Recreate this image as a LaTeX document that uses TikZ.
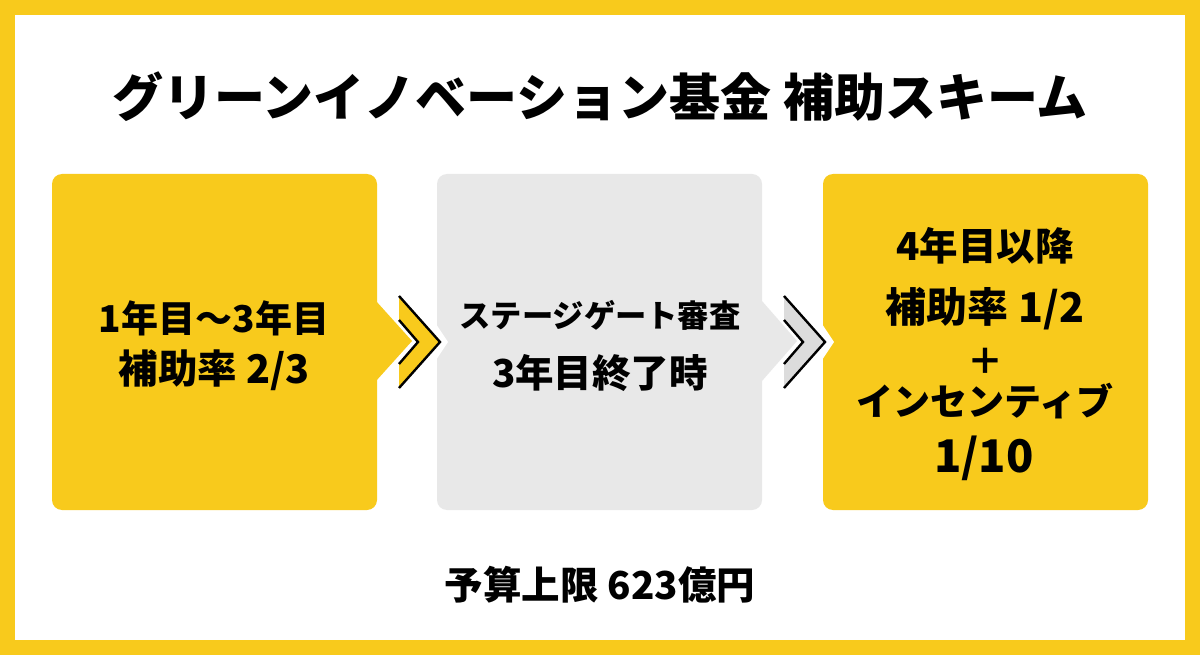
\documentclass[tikz,border=0pt]{standalone}
\usepackage{fontspec}
\setmainfont{Noto Sans CJK JP}[BoldFont={Noto Sans CJK JP Black}]
\definecolor{ylw}{RGB}{248,202,28}
\definecolor{gbox}{RGB}{232,232,232}
\definecolor{gband}{RGB}{220,220,220}
\tikzset{
  panel/.style={draw=none, rounded corners=10pt, minimum width=325pt, minimum height=336pt, inner sep=0pt},
  lbl/.style={inner sep=0pt, font=\bfseries, text=black},
  chev/.style={draw=black, line width=2.4pt, line join=miter},
}
\newcommand{\fsz}[1]{\fontsize{#1}{#1}\selectfont}
\begin{document}
\begin{tikzpicture}[x=1pt,y=-1pt]
\useasboundingbox (0,0) rectangle (1200,655);
\fill[ylw] (0,0) rectangle (1200,655);
\fill[white] (15,15) rectangle (1185,640);

% panels
\node[panel, fill=ylw] (b1) at (214.5,342) {};
\node[panel, fill=gbox] (b2) at (599.5,342) {};
\node[panel, fill=ylw] (b3) at (985.5,342) {};

% tips of boxes 1 and 2
\fill[ylw] (370,301) -- (376,301) -- (412,341) -- (376,381) -- (370,381) -- cycle;
\fill[gbox] (756,301) -- (762,301) -- (797,341) -- (762,381) -- (756,381) -- cycle;
% notches in boxes 2 and 3
\fill[white] (436,324) -- (448,342) -- (436,360) -- cycle;
\fill[white] (822,324) -- (834,342) -- (822,360) -- cycle;

% chevron band 1
\fill[ylw] (399,296) -- (440,342) -- (399,388) -- (399,364) -- (418,342) -- (399,320) -- cycle;
\draw[chev] (399,296) -- (440,342) -- (399,388);
\draw[chev] (399,320) -- (418,342) -- (399,364);
% chevron band 2
\fill[gband] (784,296) -- (825,342) -- (784,388) -- (784,364) -- (803,342) -- (784,320) -- cycle;
\draw[chev] (784,296) -- (825,342) -- (784,388);
\draw[chev] (784,320) -- (803,342) -- (784,364);

% title
\node[lbl, font=\bfseries\fsz{51}] (title) at (600,97) {グリーンイノベーション基金 補助スキーム};

% box 1
\node[lbl, font=\bfseries\fsz{37}] (t1a) at (214,318) {1年目〜3年目};
\node[lbl, font=\bfseries\fsz{39.5}] (t1b) at (214,370) {補助率 2/3};

% box 2
\node[lbl, font=\bfseries\fsz{31.3}] (t2a) at (600,315) {ステージゲート審査};
\node[lbl, font=\bfseries\fsz{38.5}] (t2b) at (600,373) {3年目終了時};

% box 3
\node[lbl, font=\bfseries\fsz{38.5}] (t3a) at (985,246) {4年目以降};
\node[lbl, font=\bfseries\fsz{41}] (t3b) at (985,309) {補助率 1/2};
\node[lbl, font=\bfseries\fsz{36}] (t3c) at (985,361) {＋};
\node[lbl, font=\bfseries\fsz{37}] (t3d) at (985,401) {インセンティブ};
\node[lbl, font=\bfseries\fsz{45}] (t3e) at (984,458) {1/10};

% bottom
\node[lbl, font=\bfseries\fsz{38.5}] (budget) at (600,585) {予算上限 623億円};
\end{tikzpicture}
\end{document}
